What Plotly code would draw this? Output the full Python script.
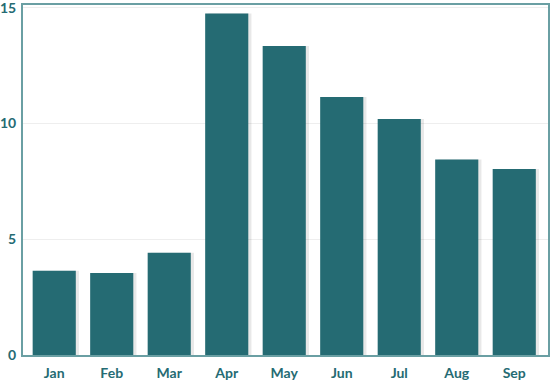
import plotly.graph_objects as go

months = ["Jan", "Feb", "Mar", "Apr", "May", "Jun", "Jul", "Aug", "Sep"]
values = [3.64, 3.54, 4.42, 14.75, 13.35, 11.15, 10.2, 8.45, 8.03]
y_ticks = [0, 5, 10, 15]

bar_color = "#256b73"
axis_color = "#6a9fa3"
text_color = "#256b73"

fig = go.Figure()
fig.add_trace(go.Bar(
    x=months, y=values, width=0.75, offset=-0.375 + 0.055,
    marker=dict(color="rgba(0,0,0,0.09)", line=dict(width=0)),
    hoverinfo="skip", showlegend=False,
))
fig.add_trace(go.Bar(
    x=months, y=values, width=0.75, offset=-0.375,
    marker=dict(color=bar_color, line=dict(width=0)),
    showlegend=False,
))
fig.update_layout(
    barmode="overlay",
    width=560, height=390,
    margin=dict(l=23, r=12, t=5, b=35, autoexpand=False),
    paper_bgcolor="white", plot_bgcolor="white",
    font=dict(family="Lato, Open Sans, sans-serif", size=14, color=text_color),
    xaxis=dict(
        range=[-0.543, 8.587],
        showline=True, linecolor=axis_color, linewidth=2, mirror=True,
        showgrid=False, ticks="", tickfont=dict(size=14, color=text_color, weight="bold"),
        ticklabelstandoff=4, automargin=False,
    ),
    yaxis=dict(
        range=[0, 15.12], tickvals=y_ticks, showline=True, linecolor=axis_color,
        linewidth=2, mirror=True, showgrid=True, gridcolor="#eeeeee", gridwidth=1,
        zeroline=False, ticks="", tickfont=dict(size=14, color=text_color, weight="bold"),
        ticklabelstandoff=2, automargin=False, ticklabeloverflow="allow",
    ),
)
fig.write_html("out.html", config={"displayModeBar": False},
               post_script="document.body.style.margin='0';document.body.style.padding='0';")
